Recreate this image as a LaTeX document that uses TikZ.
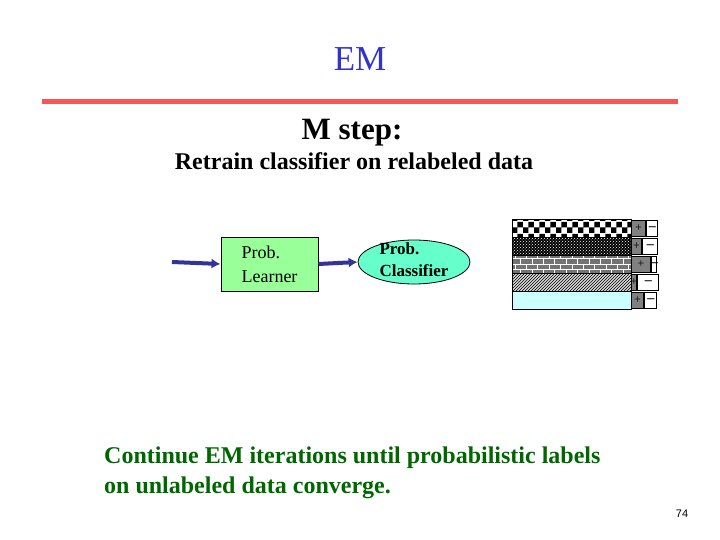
\documentclass[tikz,border=0pt]{standalone}
\usepackage{fontspec}
\setmainfont{Liberation Serif}
\newfontfamily\pagefont{Liberation Sans}
\usepackage{xcolor}
\usepackage{tikz}
\usetikzlibrary{arrows.meta,positioning,shapes.geometric,patterns}
\definecolor{titleblue}{RGB}{51,51,204}
\definecolor{rulered}{RGB}{250,85,85}
\definecolor{learngreen}{RGB}{153,255,153}
\definecolor{clsaqua}{RGB}{102,255,204}
\definecolor{rowcyan}{RGB}{204,255,255}
\definecolor{notegreen}{RGB}{0,102,0}
\definecolor{flowblue}{RGB}{51,51,153}
\definecolor{posgray}{RGB}{128,128,128}

\begin{document}
\begin{tikzpicture}[
  x=1pt,y=-1pt,
  node distance=0pt,
  box/.style={draw,line width=1pt,fill=learngreen,align=left,minimum width=97pt,minimum height=54pt,font=\fontsize{18}{24}\selectfont},
  cls/.style={draw,ellipse,line width=0.8pt,fill=clsaqua,inner sep=0pt,minimum width=112pt,minimum height=44pt,font=\fontsize{17}{22}\selectfont\bfseries},
  flow/.style={line width=4pt,draw=flowblue,-{Latex[length=9pt,width=10pt]}},
  rowbox/.style={draw,line width=0.6pt,anchor=north west,inner sep=0pt,minimum width=119pt,minimum height=18pt},
  chk/.style={pattern=checkerboard},
  diam/.style={preaction={fill=black},pattern=crosshatch dots,pattern color=white},
  brick/.style={preaction={fill=black!55},pattern=bricks,pattern color=white},
  hatch/.style={preaction={fill=black!15},pattern=north east lines},
  plain/.style={fill=rowcyan},
  posbox/.style={draw,line width=1.2pt,fill=posgray,anchor=north west,inner sep=0pt,minimum height=16pt,font=\fontsize{12}{12}\selectfont},
  negbox/.style={draw,line width=1.2pt,fill=white,inner sep=0pt,minimum height=16pt,font=\fontsize{14}{14}\selectfont\bfseries}]
\useasboundingbox (0,0) rectangle (720,540);
% heading
\node[text=titleblue,font=\fontsize{35}{42}\selectfont,anchor=base] (title) at (360,71) {EM};
\draw[rulered,line width=5pt] (42,102) -- (678,102);
\node[font=\fontsize{31}{36}\selectfont\bfseries,anchor=base] (mstep) at (352,140) {M step:};
\node[font=\fontsize{24}{28}\selectfont\bfseries,anchor=base] (retrain) at (354,170) {Retrain classifier on relabeled data};
% learner and classifier
\coordinate (src) at (172,262);
\node[box] (learner) at (269.5,264) {Prob.\\Learner};
\node[cls] (classifier) at (414,262) {\smash{\raisebox{-3pt}{\begin{tabular}{@{}l@{}}Prob.\\Classifier\end{tabular}}}};
\draw[flow] (src) -- (learner.west);
\draw[flow] (learner.east) -- (classifier.west);
% relabeled data with +/- shares
\foreach \i/\sty in {1/chk,2/diam,3/brick,4/hatch,5/plain}
  \node[rowbox,\sty] (r\i) at (512,{219+18*(\i-1)}) {};
\foreach \i/\pw/\nw in {1/14/11,2/10/15,3/19/5,4/5/21,5/12/12} {
  \node[posbox,minimum width=\pw pt] (pos\i) at (631,{220+18*(\i-1)}) {\makebox[0pt]{+}};
  \node[negbox,minimum width=\nw pt,right=of pos\i] (neg\i) {\makebox[0pt]{--}};
}
% note and page number
\node[font=\fontsize{24}{30}\selectfont\bfseries,text=notegreen,align=left,inner sep=0pt,anchor=north west] (note) at (104,447) {Continue EM iterations until probabilistic labels\\on unlabeled data converge.};
\node[font=\pagefont\fontsize{11}{13}\selectfont] (page) at (682,514) {74};
\end{tikzpicture}
\end{document}
